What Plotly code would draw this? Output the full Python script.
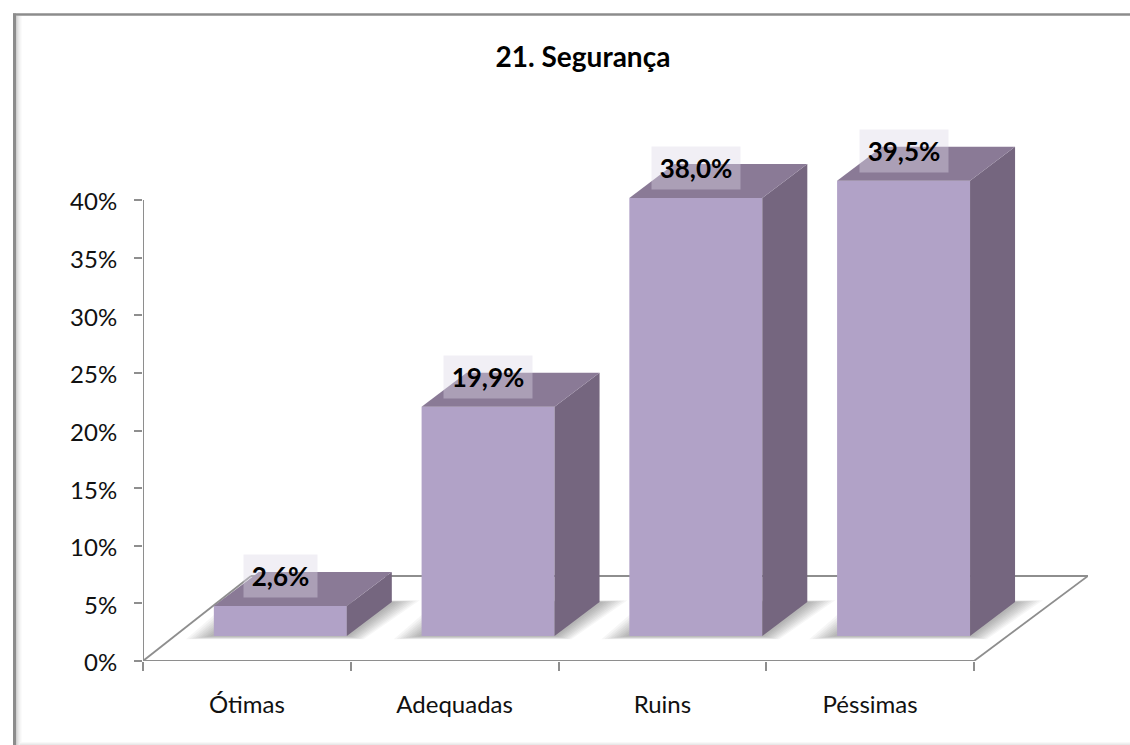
import plotly.graph_objects as go

title = "21. Segurança"
categories = ["Ótimas", "Adequadas", "Ruins", "Péssimas"]
values = [2.6, 19.9, 38.0, 39.5]
labels = ["2,6%", "19,9%", "38,0%", "39,5%"]
y_ticks = [0, 5, 10, 15, 20, 25, 30, 35, 40]
y_tick_labels = ["0%", "5%", "10%", "15%", "20%", "25%", "30%", "35%", "40%"]

FONT = "Lato"
FRONT, TOP, SIDE = "#B1A2C7", "#8A7A96", "#75667F"
AXIS = "#8E8E8E"

W, H = 1130, 745
L, R, T, B = 143, 1088, 140, 661
PX_X = 207.75          # px per category
PX_Y = 11.525          # px per percent
XMIN = -0.5
XMAX = XMIN + (R - L) / PX_X
YMAX = (B - T) / PX_Y

BAR_LO, BAR_W = -0.159, 0.64   # front face relative to category centre
BASE = 25 / PX_Y               # front of bars sits in from the floor's front edge
DX, DY = 45 / PX_X, 34 / PX_Y  # bar depth
FLOOR_DX_R, FLOOR_DX_L, FLOOR_DY = 114 / PX_X, 108 / PX_X, 85 / PX_Y


def poly(pts):
    return "M " + " L ".join(f"{x:.4f},{y:.4f}" for x, y in pts) + " Z"


def px(x):
    return (x - L) / (R - L)


def py(y):
    return (B - y) / (B - T)


fig = go.Figure()

shapes = []
# floor soft shadows
for i in range(len(values)):
    x0 = i + BAR_LO
    x1 = x0 + BAR_W
    for grow in (28, 25, 22, 19, 16, 13, 10, 7, 4):
        gx = grow / PX_X
        gy = grow * 0.12 / PX_Y
        shapes.append(dict(type="path", xref="x2", yref="y", layer="below",
                           path=poly([(x0 - gx, BASE - gy), (x1 + gx * 0.6, BASE - gy),
                                      (x1 + DX + gx, BASE + DY + gy * 0.5), (x0 + DX - gx, BASE + DY + gy * 0.5)]),
                           fillcolor="rgba(0,0,0,0.035)", line=dict(width=0)))
# floor outline and axes
floor_line = dict(color=AXIS, width=1.8)
shapes += [
    dict(type="line", xref="x2", yref="y", layer="below", x0=XMIN, y0=0,
         x1=XMIN + FLOOR_DX_L, y1=FLOOR_DY, line=floor_line),
    dict(type="line", xref="x2", yref="y", layer="below", x0=XMIN + FLOOR_DX_L, y0=FLOOR_DY,
         x1=3.5 + FLOOR_DX_R, y1=FLOOR_DY, line=floor_line),
    dict(type="line", xref="x2", yref="y", layer="below", x0=3.5, y0=0,
         x1=3.5 + FLOOR_DX_R, y1=FLOOR_DY, line=floor_line),
    dict(type="line", xref="x2", yref="y", layer="below", x0=XMIN, y0=0,
         x1=XMIN, y1=max(y_ticks), line=dict(color=AXIS, width=2)),
    dict(type="line", xref="x2", yref="y", layer="below", x0=XMIN, y0=0,
         x1=3.5, y1=0, line=dict(color=AXIS, width=2)),
]
# frame around the chart
frame = "#8C8C8C"
for k, c in enumerate(["#D0D0D0", "#DEDEDE", "#E8E8E8", "#F0F0F0", "#F6F6F6", "#FBFBFB"]):
    xk = 16.5 + k
    shapes.append(dict(type="line", xref="paper", yref="paper", layer="below",
                       x0=px(xk), x1=px(xk), y0=py(H), y1=py(16), line=dict(color=c, width=1)))
for k, c in enumerate(["#F8F8F8", "#F0F0F0", "#E8E8E8"]):
    yk = 742.5 + k
    shapes.append(dict(type="line", xref="paper", yref="paper", layer="below",
                       x0=px(20), x1=px(W), y0=py(yk), y1=py(yk), line=dict(color=c, width=1)))
shapes += [
    dict(type="line", xref="paper", yref="paper", x0=px(14.5), x1=px(14.5), y0=py(H), y1=py(13.5),
         line=dict(color=frame, width=3)),
    dict(type="line", xref="paper", yref="paper", x0=px(13), x1=px(W), y0=py(14.5), y1=py(14.5),
         line=dict(color=frame, width=2.5)),
]

# front faces
fig.add_trace(go.Bar(x=categories, y=values, base=[BASE] * len(values), width=BAR_W, offset=BAR_LO,
                     marker=dict(color=FRONT, line=dict(width=0)), hoverinfo="skip",
                     showlegend=False, xaxis="x", yaxis="y"))

# side and top faces
for i, v in enumerate(values):
    x0 = i + BAR_LO
    x1 = x0 + BAR_W
    y0 = BASE
    y1 = BASE + v
    fig.add_trace(go.Scatter(x=[x1, x1 + DX, x1 + DX, x1, x1], y=[y0, y0 + DY, y1 + DY, y1, y0],
                             mode="lines", fill="toself", fillcolor=SIDE, line=dict(width=0),
                             hoverinfo="skip", showlegend=False, xaxis="x2", yaxis="y"))
    fig.add_trace(go.Scatter(x=[x0, x1, x1 + DX, x0 + DX, x0], y=[y1, y1, y1 + DY, y1 + DY, y1],
                             mode="lines", fill="toself", fillcolor=TOP, line=dict(width=0),
                             hoverinfo="skip", showlegend=False, xaxis="x2", yaxis="y"))

# value labels
annotations = []
for i, (v, t) in enumerate(zip(values, labels)):
    annotations.append(dict(x=i + BAR_LO + BAR_W / 2, y=BASE + v + 30 / PX_Y, xref="x2", yref="y",
                            text=f"<b>{t}</b>", showarrow=False, width=(71 if i == 0 else 86), height=40,
                            align="center", valign="middle", bgcolor="rgba(220,215,230,0.4)",
                            font=dict(family=FONT, size=26, color="black")))

fig.update_layout(
    width=W, height=H, autosize=False,
    margin=dict(l=L, r=W - R, t=T, b=H - B, pad=0),
    paper_bgcolor="white", plot_bgcolor="rgba(0,0,0,0)",
    font=dict(family=FONT, size=24, color="#111111"),
    title=dict(text=f"<b>{title}</b>", x=583 / W, xanchor="center", y=1 - 57 / H, yanchor="middle",
               font=dict(family=FONT, size=28, color="black")),
    xaxis=dict(type="category", categoryorder="array", categoryarray=categories, range=[XMIN, XMAX],
               tickson="boundaries", ticks="outside", ticklen=9, tickwidth=1.6, tickcolor=AXIS,
               showline=False, showgrid=False, zeroline=False, ticklabelstandoff=27, fixedrange=True),
    xaxis2=dict(overlaying="x", range=[XMIN, XMAX], visible=False, fixedrange=True),
    yaxis=dict(range=[0, YMAX], tickmode="array", tickvals=y_ticks, ticktext=y_tick_labels, ticks="outside",
               ticklen=8, tickwidth=1.6, tickcolor=AXIS, showline=False, showgrid=False,
               zeroline=False, ticklabelstandoff=12, ticklabelshift=2, fixedrange=True),
    shapes=shapes, annotations=annotations, showlegend=False,
)

fig.write_html("out.html", config=dict(displayModeBar=False),
               post_script="document.body.style.margin='0';document.documentElement.style.overflow='hidden';")
